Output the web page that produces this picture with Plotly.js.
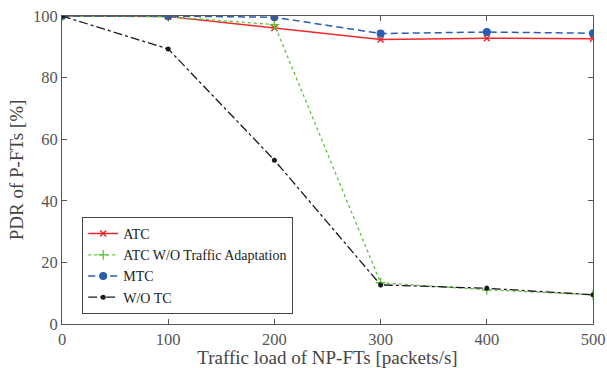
<!DOCTYPE html>
<html><head><meta charset="utf-8">
<script src="https://cdn.plot.ly/plotly-3.0.1.min.js"></script>
<style>html,body{margin:0;padding:0;background:#fff}#c{width:607px;height:368px}</style>
</head><body><div id="c"></div>
<script>
const xLoad = [0, 100, 200, 300, 400, 500];
const atc = [100, 99.8, 96.1, 92.4, 92.8, 92.6];
const atcNoAdapt = [100, 99.8, 97.2, 13.4, 11.1, 9.5];
const mtc = [100, 100, 99.6, 94.3, 94.8, 94.4];
const woTc = [100, 89.3, 53.2, 12.7, 11.6, 9.5];
const names = ['ATC', 'ATC W/O Traffic Adaptation', 'MTC', 'W/O TC'];
const xTicks = [0, 100, 200, 300, 400, 500];
const yTicks = [0, 20, 40, 60, 80, 100];

const font = "'Liberation Serif', 'Times New Roman', Times, serif";
const traces = [
  {x: xLoad, y: atc, name: names[0], mode: 'lines+markers',
   line: {color: '#f0282d', width: 1.5, dash: 'solid'},
   marker: {symbol: 'x-thin', size: 6, line: {color: '#f0282d', width: 1.5}, color: '#f0282d'}},
  {x: xLoad, y: atcNoAdapt, name: names[1], mode: 'lines+markers',
   line: {color: '#5cc43a', width: 1.3, dash: 'dot'},
   marker: {symbol: 'cross-thin', size: 7, line: {color: '#5cc43a', width: 1.3}, color: '#5cc43a'}},
  {x: xLoad, y: mtc, name: names[2], mode: 'lines+markers',
   line: {color: '#2a5db0', width: 1.5, dash: '7px,4px'},
   marker: {symbol: 'circle', size: 8, color: '#2a5db0'}},
  {x: xLoad, y: woTc, name: names[3], mode: 'lines+markers',
   line: {color: '#1a1a1a', width: 1.3, dash: 'dashdot'},
   marker: {symbol: 'circle', size: 5, color: '#1a1a1a'}}
];
const axCommon = {
  showgrid: false, zeroline: false, showline: true, mirror: 'ticks',
  linecolor: '#555', linewidth: 1, ticks: 'inside', ticklen: 5, tickcolor: '#555',
  tickfont: {family: font, size: 16.5, color: '#555'}
};
const layout = {
  width: 607, height: 368,
  margin: {l: 62, r: 14, t: 16, b: 44},
  paper_bgcolor: '#fff', plot_bgcolor: '#fff',
  font: {family: font, color: '#333'},
  showlegend: true,
  legend: {x: 0.038, y: 0.19, xanchor: 'left', yanchor: 'middle',
    bgcolor: '#fff', bordercolor: '#444', borderwidth: 1,
    font: {family: font, size: 14, color: '#222'},
    itemwidth: 30, tracegroupgap: 0},
  xaxis: Object.assign({}, axCommon, {range: [0, 500], tickvals: xTicks,
    title: {text: 'Traffic load of NP-FTs [packets/s]', font: {family: font, size: 19, color: '#444'}, standoff: 1}}),
  yaxis: Object.assign({}, axCommon, {range: [0, 100], tickvals: yTicks,
    title: {text: 'PDR of P-FTs [%]', font: {family: font, size: 19, color: '#444'}, standoff: 4}})
};
Plotly.newPlot('c', traces, layout, {displayModeBar: false, staticPlot: true});
</script></body></html>
